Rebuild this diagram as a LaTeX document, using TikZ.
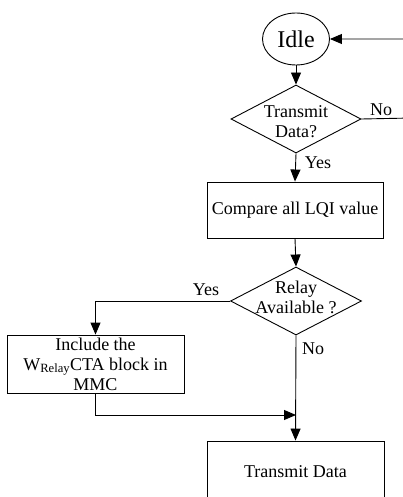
\documentclass[tikz,border=0pt]{standalone}
\usepackage{fontspec}
\setmainfont{Liberation Serif}
\usetikzlibrary{shapes.geometric,arrows.meta}

\begin{document}
\begin{tikzpicture}[x=1pt,y=-1pt, line width=0.9pt,
  txt/.style={font=\fontsize{18}{20}\selectfont, align=center, inner sep=0pt},
  procbox/.style={draw, rectangle, inner sep=0pt, align=center,
    font=\fontsize{18}{20}\selectfont},
  decision/.style={draw, diamond, inner sep=0pt},
  flow/.style={-{Triangle[length=12pt,width=10pt]}}
]
\useasboundingbox (0,0) rectangle (403,497);
\clip (0,0) rectangle (403,497);

% states and steps
\node[draw, ellipse, minimum width=67pt, minimum height=52pt, inner sep=0pt,
  font=\fontsize{24}{26}\selectfont] (idle) at (296,39) {Idle};

\node[decision, minimum width=130pt, minimum height=68pt] (d1) at (296,119) {};
\node[txt] (d1t) at (296,122) {Transmit\\Data?};

\node[procbox, minimum width=176pt, minimum height=56pt] (cmp) at (295,210)
  {Compare all LQI value};

\node[decision, minimum width=131pt, minimum height=68pt] (d2) at (296,301) {};
\node[txt] (d2t) at (296,297) {Relay\\Available ?};

\node[procbox, minimum width=177pt, minimum height=58pt] (inc) at (95.5,364)
  {Include the\\W\textsubscript{Relay}CTA block in\\MMC};

\node[procbox, minimum width=177pt, minimum height=62pt] (tx) at (295.5,472)
  {Transmit Data};

% connectors
\coordinate (r1) at (412,118);
\coordinate (r2) at (412,39);
\coordinate (j) at (296,415);

\draw[flow] (idle.south) -- (d1.north);
\draw[flow] (d1.east) -- (r1) -- (r2) -- (idle.east);
\draw[flow] (d1.south) -- (cmp.north);
\draw[flow] (cmp.south) -- (d2.north);
\draw[flow] (d2.west) -| (inc.north);
\draw[flow] (inc.south) |- (j);
\draw[flow] (d2.south) -- (tx.north);

% branch labels
\node[txt] (no1) at (381,110) {No};
\node[txt] (yes1) at (318,163) {Yes};
\node[txt] (yes2) at (206,290) {Yes};
\node[txt] (no2) at (313,349) {No};
\end{tikzpicture}
\end{document}
